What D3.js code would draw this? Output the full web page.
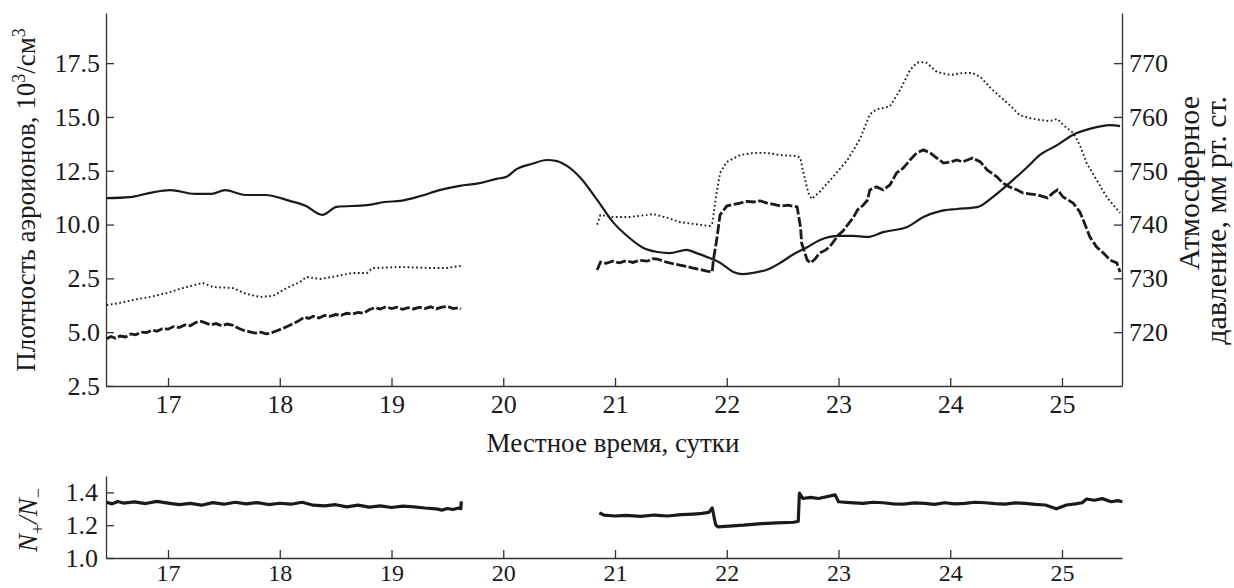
<!DOCTYPE html>
<html>
<head>
<meta charset="utf-8">
<script src="https://cdn.jsdelivr.net/npm/d3@7"></script>
<style>
  body { margin: 0; background: #fff; }
  svg { display: block; }
  text { font-family: "Liberation Serif", "Times New Roman", serif; fill: #1a1a1a; }
</style>
</head>
<body>
<div id="chart"></div>
<script>
// x ticks (local time, days)
var dayTicks = [17, 18, 19, 20, 21, 22, 23, 24, 25];
// left axis: tick values and the labels as printed (the 7.5 label reads "2.5")
var densTicks = [2.5, 5, 7.5, 10, 12.5, 15, 17.5];
var densLabels = ["2.5", "5.0", "2.5", "10.0", "12.5", "15.0", "17.5"];
var pressTicks = [720, 730, 740, 750, 760, 770];
var ratioTicks = [1.0, 1.2, 1.4];

// atmospheric pressure, mm Hg (solid line)
var pressure = [
  [16.445, 744.9], [16.66, 745.1], [16.84, 745.9], [17.02, 746.4], [17.24, 745.7],
  [17.39, 745.7], [17.51, 746.4], [17.69, 745.5], [17.87, 745.5], [18.09, 744.4],
  [18.23, 743.5], [18.38, 741.8], [18.51, 743.3], [18.78, 743.6], [18.94, 744.2],
  [19.08, 744.4], [19.26, 745.3], [19.43, 746.4], [19.61, 747.2], [19.79, 747.7],
  [19.94, 748.5], [20.03, 748.9], [20.12, 750.3], [20.26, 751.3], [20.39, 752.0],
  [20.48, 751.8], [20.57, 750.9], [20.69, 748.7], [20.84, 744.6], [20.98, 740.5],
  [21.13, 737.5], [21.25, 735.7], [21.38, 734.9], [21.49, 734.7], [21.64, 735.3],
  [21.73, 734.7], [21.82, 734.0], [21.94, 732.9], [22.06, 731.2], [22.14, 730.8],
  [22.23, 731.0], [22.36, 731.6], [22.48, 732.9], [22.59, 734.4], [22.72, 735.8],
  [22.83, 737.1], [23.01, 737.9], [23.13, 737.9], [23.26, 737.7], [23.40, 738.6],
  [23.62, 739.6], [23.76, 741.4], [23.91, 742.5], [24.06, 742.9], [24.25, 743.3],
  [24.38, 745.1], [24.53, 747.7], [24.69, 750.7], [24.80, 752.9], [24.96, 754.8],
  [25.10, 756.7], [25.25, 757.8], [25.43, 758.5], [25.52, 758.3]
];

// ion density, dotted curve, first and second runs (10^3 / cm^3)
var dottedA = [
  [16.45, 6.26], [16.57, 6.36], [16.69, 6.50], [16.84, 6.64], [16.99, 6.82],
  [17.13, 7.05], [17.31, 7.29], [17.40, 7.10], [17.58, 7.05], [17.70, 6.78],
  [17.82, 6.64], [17.94, 6.68], [18.06, 7.05], [18.18, 7.33], [18.24, 7.57],
  [18.36, 7.47], [18.47, 7.57], [18.65, 7.75], [18.78, 7.75], [18.83, 7.98],
  [19.07, 8.03], [19.37, 7.98], [19.49, 7.98], [19.62, 8.08]
];
var dottedB = [
  [20.84, 10.0], [20.87, 10.45], [20.98, 10.35], [21.13, 10.35], [21.29, 10.45],
  [21.34, 10.49], [21.47, 10.31], [21.58, 10.12], [21.70, 10.03], [21.85, 9.93],
  [21.87, 10.07], [21.91, 11.47], [21.94, 12.40], [22.00, 12.91], [22.12, 13.23],
  [22.24, 13.33], [22.36, 13.33], [22.48, 13.23], [22.63, 13.18], [22.66, 13.09],
  [22.68, 12.54], [22.73, 11.47], [22.76, 11.19], [22.83, 11.51], [22.95, 12.21],
  [23.08, 13.0], [23.19, 13.95], [23.28, 15.12], [23.34, 15.35], [23.46, 15.49],
  [23.55, 16.25], [23.64, 17.18], [23.70, 17.51], [23.73, 17.56], [23.79, 17.51],
  [23.88, 17.09], [24.00, 16.95], [24.11, 17.04], [24.20, 17.04], [24.27, 16.86],
  [24.36, 16.35], [24.45, 15.93], [24.53, 15.56], [24.62, 15.09], [24.71, 14.95],
  [24.80, 14.86], [24.89, 14.81], [24.96, 14.91], [25.01, 14.63], [25.10, 14.26],
  [25.16, 13.70], [25.22, 12.86], [25.31, 12.07], [25.40, 11.28], [25.52, 10.54]
];

// ion density, dashed noisy curve, first and second runs
var dashedA = [
  [16.45, 4.70], [16.49, 4.80], [16.53, 4.72], [16.57, 4.82], [16.62, 4.78], [16.67, 4.92],
  [16.71, 4.88], [16.76, 5.00], [16.81, 4.98], [16.86, 5.10], [16.90, 5.04], [16.95, 5.16],
  [17.00, 5.14], [17.05, 5.26], [17.10, 5.22], [17.15, 5.34], [17.20, 5.30], [17.25, 5.46],
  [17.30, 5.50], [17.34, 5.42], [17.38, 5.34], [17.43, 5.40], [17.48, 5.30], [17.53, 5.38],
  [17.58, 5.32], [17.63, 5.18], [17.68, 5.08], [17.73, 5.02], [17.78, 4.96], [17.83, 5.00],
  [17.88, 4.92], [17.93, 4.98], [17.98, 5.08], [18.03, 5.18], [18.08, 5.30], [18.13, 5.42],
  [18.18, 5.56], [18.22, 5.70], [18.26, 5.64], [18.30, 5.74], [18.35, 5.66], [18.40, 5.78],
  [18.45, 5.74], [18.50, 5.82], [18.55, 5.78], [18.60, 5.88], [18.65, 5.84], [18.70, 5.92],
  [18.75, 5.88], [18.80, 6.04], [18.85, 6.14], [18.90, 6.08], [18.95, 6.18], [19.00, 6.10],
  [19.05, 6.16], [19.10, 6.06], [19.15, 6.14], [19.20, 6.08], [19.25, 6.16], [19.30, 6.10],
  [19.35, 6.18], [19.40, 6.08], [19.45, 6.16], [19.50, 6.20], [19.55, 6.10], [19.60, 6.14],
  [19.62, 6.08]
];
var dashedB = [
  [20.84, 7.89], [20.87, 8.26], [20.92, 8.20], [20.98, 8.30], [21.04, 8.22], [21.10, 8.32],
  [21.16, 8.24], [21.22, 8.34], [21.29, 8.30], [21.34, 8.42], [21.38, 8.40], [21.43, 8.30],
  [21.47, 8.24], [21.52, 8.18], [21.58, 8.12], [21.64, 8.06], [21.70, 7.98], [21.76, 7.92],
  [21.82, 7.84], [21.87, 7.80], [21.88, 8.35], [21.91, 9.28], [21.94, 10.45], [22.00, 10.86],
  [22.06, 10.94], [22.12, 11.00], [22.18, 11.08], [22.24, 11.05], [22.30, 11.10], [22.36, 11.00],
  [22.42, 10.94], [22.48, 10.86], [22.55, 10.90], [22.63, 10.82], [22.66, 9.89], [22.67, 9.15],
  [22.72, 8.35], [22.75, 8.22], [22.79, 8.40], [22.83, 8.68], [22.88, 8.80], [22.92, 8.96],
  [23.00, 9.52], [23.04, 9.70], [23.08, 9.98], [23.13, 10.30], [23.17, 10.68], [23.22, 10.90],
  [23.26, 11.14], [23.28, 11.61], [23.34, 11.75], [23.40, 11.61], [23.46, 11.84], [23.52, 12.40],
  [23.58, 12.63], [23.64, 13.00], [23.70, 13.33], [23.76, 13.47], [23.82, 13.33], [23.88, 13.09],
  [23.94, 12.86], [24.00, 12.91], [24.06, 13.00], [24.11, 12.91], [24.20, 13.09], [24.27, 12.91],
  [24.33, 12.54], [24.42, 12.21], [24.47, 11.93], [24.53, 11.75], [24.60, 11.61], [24.65, 11.47],
  [24.72, 11.42], [24.78, 11.38], [24.87, 11.24], [24.92, 11.47], [24.96, 11.61], [25.01, 11.28],
  [25.10, 11.00], [25.16, 10.59], [25.19, 10.21], [25.25, 9.42], [25.31, 8.96], [25.37, 8.68],
  [25.43, 8.35], [25.49, 8.22], [25.52, 7.80]
];

// ratio N+/N-, lower panel
var ratioA = [
  [16.45, 1.340], [16.50, 1.330], [16.55, 1.345], [16.60, 1.335], [16.70, 1.342], [16.80, 1.332],
  [16.90, 1.345], [17.00, 1.335], [17.10, 1.325], [17.20, 1.333], [17.30, 1.322], [17.40, 1.338],
  [17.50, 1.328], [17.60, 1.340], [17.70, 1.330], [17.80, 1.338], [17.90, 1.326], [18.00, 1.334],
  [18.10, 1.328], [18.20, 1.340], [18.30, 1.322], [18.40, 1.318], [18.50, 1.325], [18.60, 1.312],
  [18.70, 1.322], [18.80, 1.310], [18.90, 1.318], [19.00, 1.308], [19.10, 1.316], [19.20, 1.312],
  [19.30, 1.305], [19.40, 1.300], [19.45, 1.292], [19.50, 1.302], [19.55, 1.296], [19.60, 1.305],
  [19.62, 1.300], [19.625, 1.345]
];
var ratioB = [
  [20.86, 1.275], [20.90, 1.262], [21.00, 1.256], [21.10, 1.260], [21.23, 1.254], [21.35, 1.262],
  [21.47, 1.256], [21.59, 1.264], [21.70, 1.268], [21.78, 1.272], [21.84, 1.278], [21.87, 1.305],
  [21.90, 1.204], [21.92, 1.190], [22.02, 1.194], [22.15, 1.200], [22.31, 1.210], [22.45, 1.214],
  [22.60, 1.218], [22.64, 1.224], [22.65, 1.395], [22.68, 1.363], [22.75, 1.370], [22.82, 1.363],
  [22.97, 1.385], [23.00, 1.343], [23.10, 1.338], [23.22, 1.333], [23.31, 1.340], [23.40, 1.337],
  [23.49, 1.330], [23.58, 1.329], [23.68, 1.336], [23.77, 1.333], [23.86, 1.327], [23.95, 1.337],
  [24.04, 1.330], [24.13, 1.333], [24.22, 1.340], [24.31, 1.337], [24.40, 1.331], [24.49, 1.329],
  [24.58, 1.336], [24.67, 1.333], [24.76, 1.327], [24.85, 1.323], [24.95, 1.300], [25.04, 1.323],
  [25.12, 1.330], [25.18, 1.337], [25.22, 1.360], [25.29, 1.352], [25.36, 1.362], [25.44, 1.343],
  [25.50, 1.350], [25.54, 1.343]
];

var width = 1234, height = 588;
var ink = "#1a1a1a";
var serif = "'Liberation Serif', 'Times New Roman', serif";

var svg = d3.select("#chart").append("svg")
    .attr("width", width)
    .attr("height", height);

// scales
var x = d3.scaleLinear().domain([16.445, 25.537]).range([106, 1122]);
var yDens = d3.scaleLinear().domain([2.5, 19.83]).range([386, 13]);
var yPress = d3.scaleLinear().domain([710, 779.32]).range([386, 13]);
var yRatio = d3.scaleLinear().domain([1.0, 1.5]).range([558, 476]);

function styler(size) {
    return function(g) {
        g.attr("font-family", null).attr("font-size", null);
        g.selectAll("path, line").attr("stroke", "#333").attr("stroke-width", 1.3);
        g.selectAll("text")
            .style("font-family", serif)
            .style("font-size", size + "px")
            .attr("fill", ink);
    };
}

// top panel axes
svg.append("g")
    .attr("transform", "translate(0,386)")
    .call(d3.axisBottom(x).tickValues(dayTicks).tickSizeInner(-8).tickSizeOuter(0).tickPadding(9))
    .call(styler(26));

svg.append("g")
    .attr("transform", "translate(106,0)")
    .call(d3.axisLeft(yDens).tickValues(densTicks)
        .tickFormat(function(d, i) { return densLabels[i]; })
        .tickSizeInner(-8).tickSizeOuter(0).tickPadding(6))
    .call(styler(26));

svg.append("g")
    .attr("transform", "translate(1122,0)")
    .call(d3.axisRight(yPress).tickValues(pressTicks).tickSizeInner(-8).tickSizeOuter(0).tickPadding(7))
    .call(styler(26));

// bottom panel axes
svg.append("g")
    .attr("transform", "translate(0,558)")
    .call(d3.axisBottom(x).tickValues(dayTicks).tickSizeInner(-8).tickSizeOuter(0).tickPadding(6))
    .call(styler(24));

svg.append("g")
    .attr("transform", "translate(106,0)")
    .call(d3.axisLeft(yRatio).tickValues(ratioTicks).tickFormat(d3.format(".1f"))
        .tickSizeInner(-8).tickSizeOuter(0).tickPadding(8))
    .call(styler(26));

// lines
var densLine = d3.line().x(function(d) { return x(d[0]); }).y(function(d) { return yDens(d[1]); });
var pressLine = d3.line().x(function(d) { return x(d[0]); }).y(function(d) { return yPress(d[1]); })
    .curve(d3.curveMonotoneX);
var ratioLine = d3.line().x(function(d) { return x(d[0]); }).y(function(d) { return yRatio(d[1]); });

svg.append("path").datum(pressure)
    .attr("d", pressLine).attr("fill", "none").attr("stroke", ink).attr("stroke-width", 2.2);

[dottedA, dottedB].forEach(function(seg) {
    svg.append("path").datum(seg)
        .attr("d", densLine).attr("fill", "none").attr("stroke", ink)
        .attr("stroke-width", 1.9).attr("stroke-dasharray", "1.7,2.6");
});

[dashedA, dashedB].forEach(function(seg) {
    svg.append("path").datum(seg)
        .attr("d", densLine).attr("fill", "none").attr("stroke", ink)
        .attr("stroke-width", 2.8).attr("stroke-dasharray", "10,2.5");
});

[ratioA, ratioB].forEach(function(seg) {
    svg.append("path").datum(seg)
        .attr("d", ratioLine).attr("fill", "none").attr("stroke", ink)
        .attr("stroke-width", 3.2).attr("stroke-linejoin", "round");
});

// axis titles
var leftTitle = svg.append("text")
    .attr("transform", "translate(35,200) rotate(-90)")
    .attr("text-anchor", "middle")
    .style("font-size", "27px");
leftTitle.append("tspan").text("Плотность аэроионов, 10");
leftTitle.append("tspan").attr("dy", -10).style("font-size", "18px").text("3");
leftTitle.append("tspan").attr("dy", 10).text("/см");
leftTitle.append("tspan").attr("dy", -10).style("font-size", "18px").text("3");

svg.append("text")
    .attr("x", 613).attr("y", 452)
    .attr("text-anchor", "middle")
    .style("font-size", "27px")
    .text("Местное время, сутки");

svg.append("text")
    .attr("transform", "translate(1199,96) rotate(-90)")
    .attr("text-anchor", "end")
    .style("font-size", "30px")
    .text("Атмосферное");

svg.append("text")
    .attr("transform", "translate(1226,96) rotate(-90)")
    .attr("text-anchor", "end")
    .style("font-size", "30px")
    .text("давление, мм рт. ст.");

var ratioTitle = svg.append("text")
    .attr("transform", "translate(37,520) rotate(-90)")
    .attr("text-anchor", "middle")
    .style("font-size", "27px")
    .attr("font-style", "italic");
ratioTitle.append("tspan").text("N");
ratioTitle.append("tspan").attr("dy", 7).style("font-size", "18px").attr("font-style", "normal").text("+");
ratioTitle.append("tspan").attr("dy", -7).text("/");
ratioTitle.append("tspan").text("N");
ratioTitle.append("tspan").attr("dy", 7).style("font-size", "18px").attr("font-style", "normal").text("−");
</script>
</body>
</html>
